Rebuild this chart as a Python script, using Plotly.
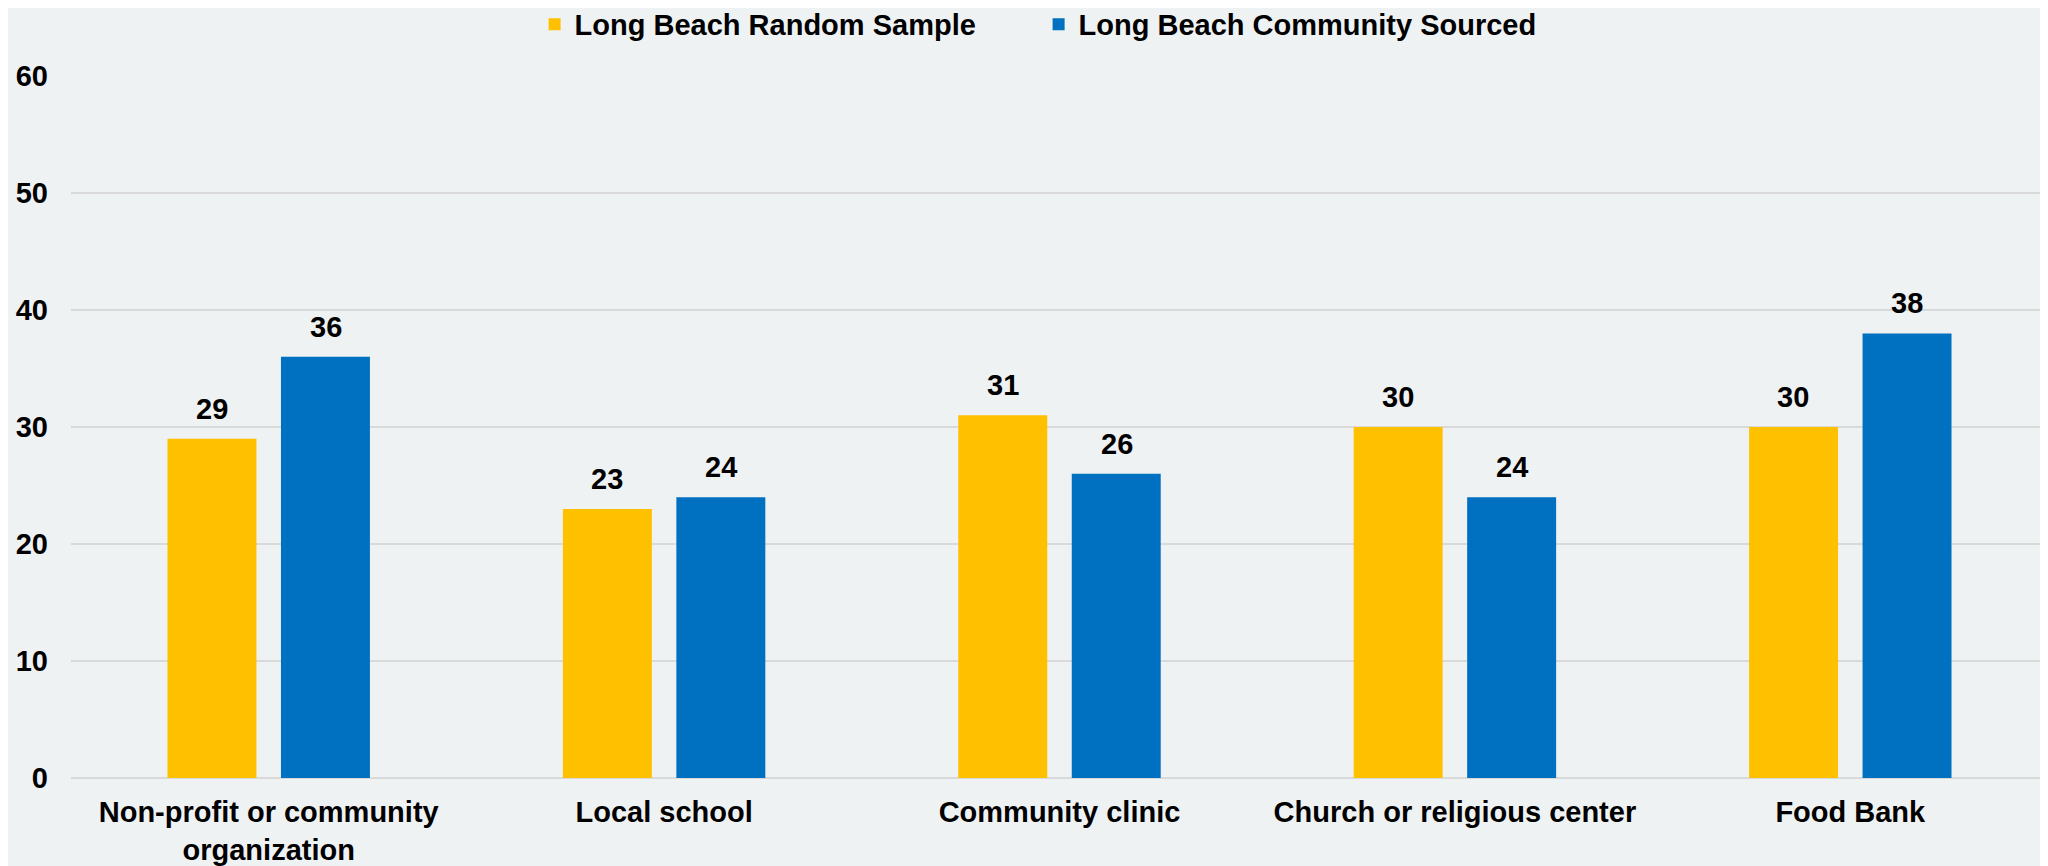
import plotly.graph_objects as go

categories = ["Non-profit or community<br>organization", "Local school", "Community clinic",
              "Church or religious center", "Food Bank"]
random_sample = [29, 23, 31, 30, 30]
community_sourced = [36, 24, 26, 24, 38]
series_names = ["Long Beach Random Sample", "Long Beach Community Sourced"]
colors = ["#FFC000", "#0070C0"]
y_ticks = [0, 10, 20, 30, 40, 50, 60]

FONT = "Liberation Sans, Arial, sans-serif"
BG = "#EFF2F3"
FS = 29

fig = go.Figure()
for name, vals, col in zip(series_names, [random_sample, community_sourced], colors):
    fig.add_trace(go.Bar(x=categories, y=vals, name=name, marker=dict(color=col, line=dict(width=0))))

# value labels via annotations anchored on data coordinates
offsets = [-57, 57]
annotations = []
for vals, dx in zip([random_sample, community_sourced], offsets):
    for c, v in zip(categories, vals):
        annotations.append(dict(x=c, y=v, xref="x", yref="y", text=str(v), showarrow=False,
                                xshift=dx, yshift=12, yanchor="bottom",
                                font=dict(family=FONT, size=FS, color="black", weight="bold")))

fig.update_layout(
    width=2040, height=858,
    paper_bgcolor=BG, plot_bgcolor=BG,
    margin=dict(l=63, r=0, t=68, b=85),
    barmode="group", bargap=0.426, bargroupgap=0.216,
    font=dict(family=FONT, size=FS, color="black", weight="bold"),
    legend=dict(orientation="h", x=0.2345, xanchor="left", y=0.981, yanchor="middle",
                yref="container", font=dict(family=FONT, size=FS, color="black", weight="bold"),
                bgcolor="rgba(0,0,0,0)", itemwidth=30, entrywidth=459, entrywidthmode="pixels"),
    annotations=annotations,
    showlegend=True,
)
fig.update_yaxes(range=[0, 60], tickvals=y_ticks, showgrid=True, gridcolor="#D9D9D9", gridwidth=2,
                 zeroline=True, zerolinecolor="#D9D9D9", zerolinewidth=2, showline=False,
                 ticks="", ticklabelstandoff=22,
                 tickfont=dict(family=FONT, size=FS, color="black", weight="bold"))
fig.update_xaxes(showgrid=False, showline=False, ticks="", ticklabelstandoff=14,
                 tickfont=dict(family=FONT, size=FS, color="black", weight="bold"))

fig.write_html("out.html")
